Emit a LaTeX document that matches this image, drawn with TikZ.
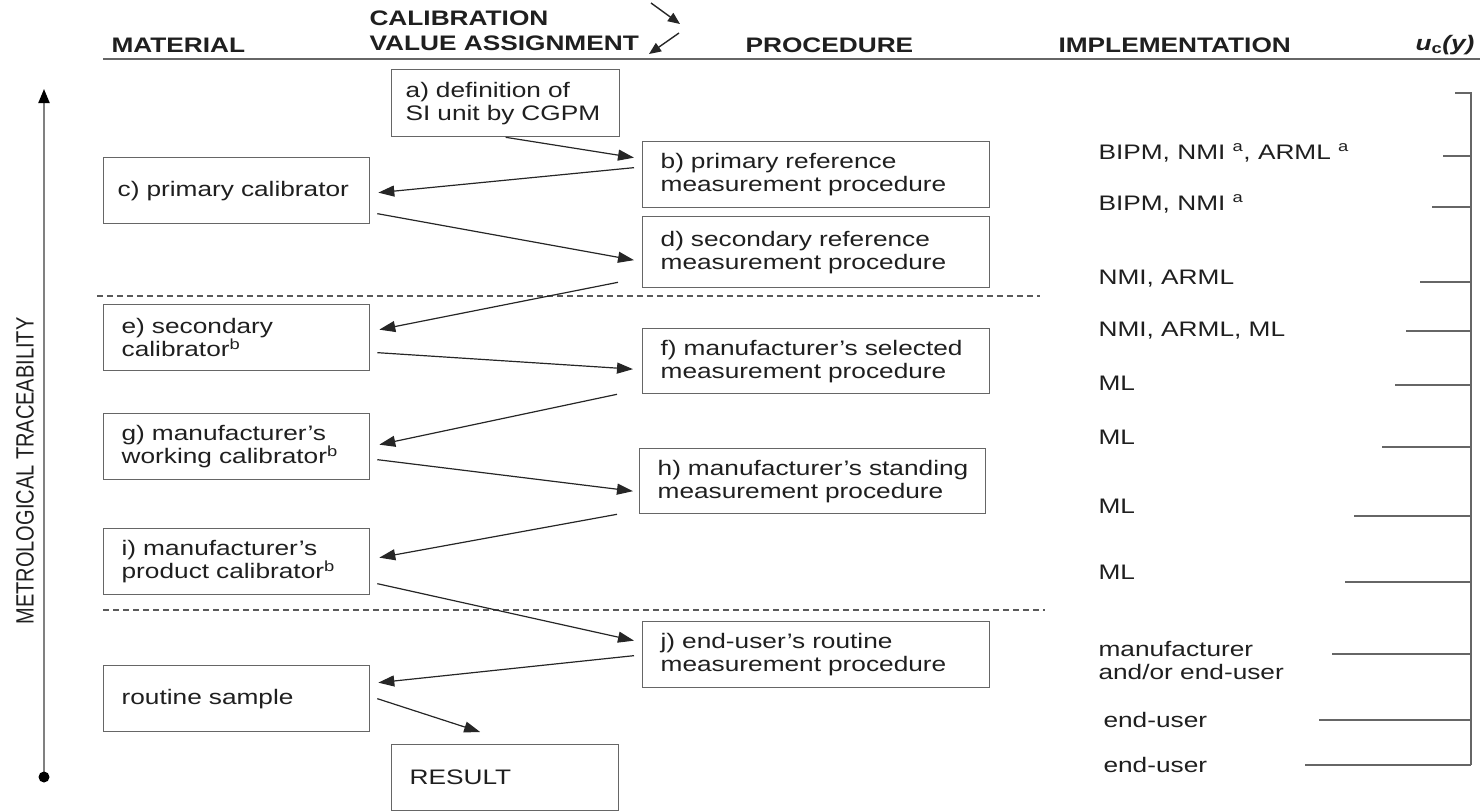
\documentclass[tikz,border=0pt]{standalone}
\usepackage{fontspec}
\setmainfont{Liberation Sans}[FakeStretch=1.25]
\newfontfamily\axisfont{Liberation Sans}
\usetikzlibrary{arrows.meta,calc}

\begin{document}
\begin{tikzpicture}[x=1pt,y=-1pt,
    font=\fontsize{21}{23}\selectfont,
    every node/.style={text=black!88},
    calbox/.style={draw=black!60, line width=1.3pt, inner xsep=18pt, inner ysep=0pt,
        minimum height=66pt, align=left, anchor=north west, text width=#1},
    calarrow/.style={draw=black!85, line width=1.2pt, -{Triangle[length=16pt,width=11pt]}},
    smallarrow/.style={draw=black!85, line width=1.4pt, -{Triangle[length=12pt,width=10pt]}},
    divider/.style={draw=black!65, line width=1.1pt, dash pattern=on 6pt off 4pt},
    ucline/.style={draw=black!60, line width=1.1pt},
    colhead/.style={font=\fontsize{21}{23}\selectfont\bfseries, anchor=west},
    implnode/.style={anchor=west, align=left}]
    \useasboundingbox (0,0) rectangle (1480,811);

    \node[colhead] (mat) at (108,45) {MATERIAL};
    \node[colhead] (cal) at (366,18) {CALIBRATION};
    \node[colhead] (val) at (366,43) {VALUE ASSIGNMENT};
    \node[colhead] (proc) at (742,45) {PROCEDURE};
    \node[colhead] (impl) at (1055,45) {IMPLEMENTATION};
    \node[colhead] (uc) at (1412,45) {\textit{u}\textsubscript{c}\textit{(y)}};
    \coordinate (s1) at (651,3);
    \coordinate (s2) at (680,24);
    \coordinate (s3) at (679,33);
    \coordinate (s4) at (649,54);
    \draw[smallarrow] (s1) -- (s2);
    \draw[smallarrow] (s3) -- (s4);
    \draw[black!60, line width=1.5pt] (103,59) -- (1480,59);

    \node[calbox=200, inner xsep=14pt, minimum height=67pt] (a) at (391,69) {a) definition of\\SI unit by CGPM};
    \node[calbox=311] (b) at (642,141) {b) primary reference\\measurement procedure};
    \node[calbox=238, inner xsep=14pt] (c) at (103,157) {c) primary calibrator};
    \node[calbox=311, minimum height=71pt] (d) at (642,216) {d) secondary reference\\measurement procedure};
    \node[calbox=230] (e) at (103,304) {e) secondary\\calibrator\textsuperscript{b}};
    \node[calbox=311, minimum height=65pt] (f) at (642,328) {f) manufacturer's selected\\measurement procedure};
    \node[calbox=230] (g) at (103,413) {g) manufacturer's\\working calibrator\textsuperscript{b}};
    \node[calbox=310, minimum height=65pt] (h) at (639,448) {h) manufacturer's standing\\measurement procedure};
    \node[calbox=230] (i) at (103,528) {i) manufacturer's\\product calibrator\textsuperscript{b}};
    \node[calbox=311] (j) at (642,621) {j) end-user's routine\\measurement procedure};
    \node[calbox=230] (rs) at (103,665) {routine sample};
    \node[calbox=191] (res) at (391,744) {RESULT};

    \draw[divider] (97,296) -- (1040,296);
    \draw[divider] (103,610) -- (1045,610);

    \draw[calarrow] (a.south) -- ($(b.west)+(-8,-17)$);
    \draw[calarrow] ($(b.west)+(-8,-7)$) -- ($(c.east)+(8,2)$);
    \draw[calarrow] ($(c.east)+(7,23)$) -- ($(d.west)+(-8,8)$);
    \draw[calarrow] ($(d.south west)+(-24,-6)$) -- ($(e.east)+(9,-8)$);
    \draw[calarrow] ($(e.east)+(7,15)$) -- ($(f.west)+(-9,8)$);
    \draw[calarrow] ($(f.south west)+(-25,0)$) -- ($(g.east)+(9,-2)$);
    \draw[calarrow] ($(g.east)+(7,13)$) -- ($(h.west)+(-6,10)$);
    \draw[calarrow] ($(h.south west)+(-22,0)$) -- ($(i.east)+(9,-4)$);
    \draw[calarrow] ($(i.east)+(7,22)$) -- ($(j.west)+(-8,-14)$);
    \draw[calarrow] ($(j.west)+(-8,1)$) -- ($(rs.east)+(8,-16)$);
    \draw[calarrow] ($(rs.east)+(7,0)$) -- ($(res.north)+(-25,-12)$);

    \coordinate (low) at (44,777);
    \coordinate (high) at (44,89);
    \draw[black!50, line width=2pt, -{Triangle[length=14pt,width=11pt,color=black]}] (low) -- (high);
    \fill[black] (low) circle (5.5);
    \node[rotate=90, font=\axisfont\fontsize{20}{24}\selectfont] (trace) at (25,471)
        {\scalebox{1}[1.25]{METROLOGICAL TRACEABILITY}};

    \node[implnode] (i1) at (1095,153) {BIPM, NMI \textsuperscript{a}, ARML \textsuperscript{a}};
    \node[implnode] (i2) at (1095,204) {BIPM, NMI \textsuperscript{a}};
    \node[implnode] (i3) at (1095,279) {NMI, ARML};
    \node[implnode] (i4) at (1095,331) {NMI, ARML, ML};
    \node[implnode] (i5) at (1095,383) {ML};
    \node[implnode] (i6) at (1095,437) {ML};
    \node[implnode] (i7) at (1095,506) {ML};
    \node[implnode] (i8) at (1095,572) {ML};
    \node[implnode] (i9) at (1095,660) {manufacturer\\and/or end-user};
    \node[implnode] (i10) at (1100,720) {end-user};
    \node[implnode] (i11) at (1100,765) {end-user};

    \draw[ucline] (1455,93) -- (1471,93) -- (1471,765);
    \foreach \y/\x in {156/1443, 207/1432, 282/1420, 331/1406, 385/1395, 447/1382,
        516/1354, 582/1345, 654/1332, 720/1319, 765/1305}
        \draw[ucline] (\x,\y) -- (1471,\y);
\end{tikzpicture}
\end{document}
